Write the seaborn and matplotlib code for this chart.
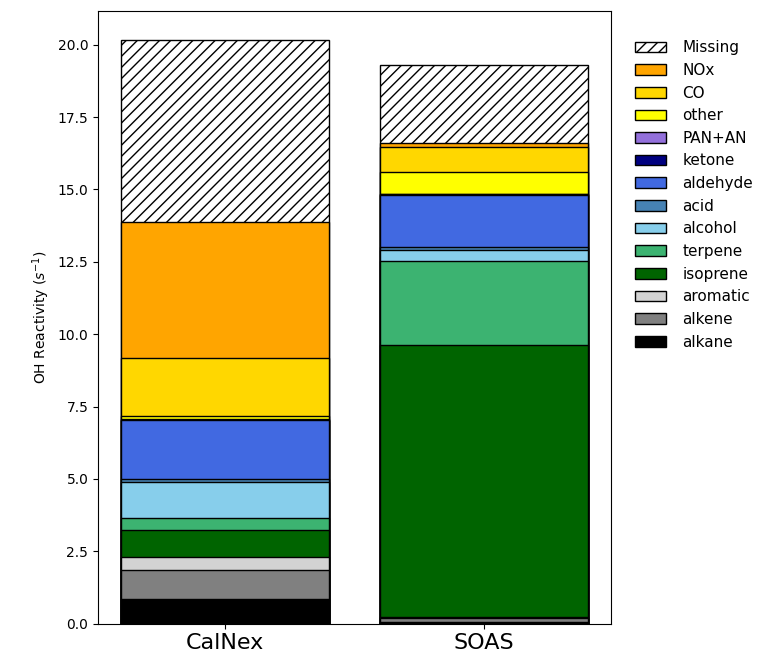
import numpy as np
import seaborn as sns
import matplotlib
matplotlib.use("Agg")
import matplotlib.pyplot as plt

# ==============================================
# Data: OH reactivity by class (s^-1)
# ==============================================
sites = ["CalNex", "SOAS"]
categories = ["alkane", "alkene", "aromatic", "isoprene", "terpene", "alcohol",
              "acid", "aldehyde", "ketone", "PAN+AN", "other", "CO", "NOx", "Missing"]

alkane = [0.85, 0.05]
alkene = [1.02, 0.15]
aromatic = [0.43, 0.02]
isoprene = [0.95, 9.42]
terpene = [0.40, 2.88]
alcohol = [1.23, 0.40]
acid = [0.13, 0.08]
aldehyde = [2.02, 1.82]
ketone = [0.02, 0.02]
pan_an = [0.02, 0.01]
other = [0.09, 0.74]
co = [2.02, 0.86]
nox = [4.68, 0.15]
missing = [6.29, 2.69]

colors = ["black", "grey", "lightgrey", "darkgreen", "mediumseagreen", "skyblue",
          "steelblue", "royalblue", "navy", "mediumpurple", "yellow", "gold", "orange", "white"]

values = np.array([alkane, alkene, aromatic, isoprene, terpene, alcohol, acid,
                   aldehyde, ketone, pan_an, other, co, nox, missing])
cum = np.cumsum(values, axis=0)

# ==============================================
# Plot: stacked bars by overlaying cumulative totals, top layer first
# ==============================================
fig, ax = plt.subplots(figsize=(7.6, 6.6), dpi=100)
fig.subplots_adjust(left=0.129, right=0.804, bottom=0.055, top=0.983)

for i in range(len(categories) - 1, -1, -1):
    sns.barplot(x=sites, y=cum[i], ax=ax, color=colors[i], saturation=1,
                edgecolor="black", linewidth=1, width=0.8, label=categories[i],
                hatch="///" if categories[i] == "Missing" else None)

ax.set_xlim(-0.49, 1.49)
ax.set_ylabel("OH Reactivity ($s^{-1}$)")
ax.tick_params(axis="x", labelsize=16)
ax.legend(loc="upper left", bbox_to_anchor=(1.02, 0.975), frameon=False,
          fontsize=11, handletextpad=1.1)

plt.savefig("out.png")
